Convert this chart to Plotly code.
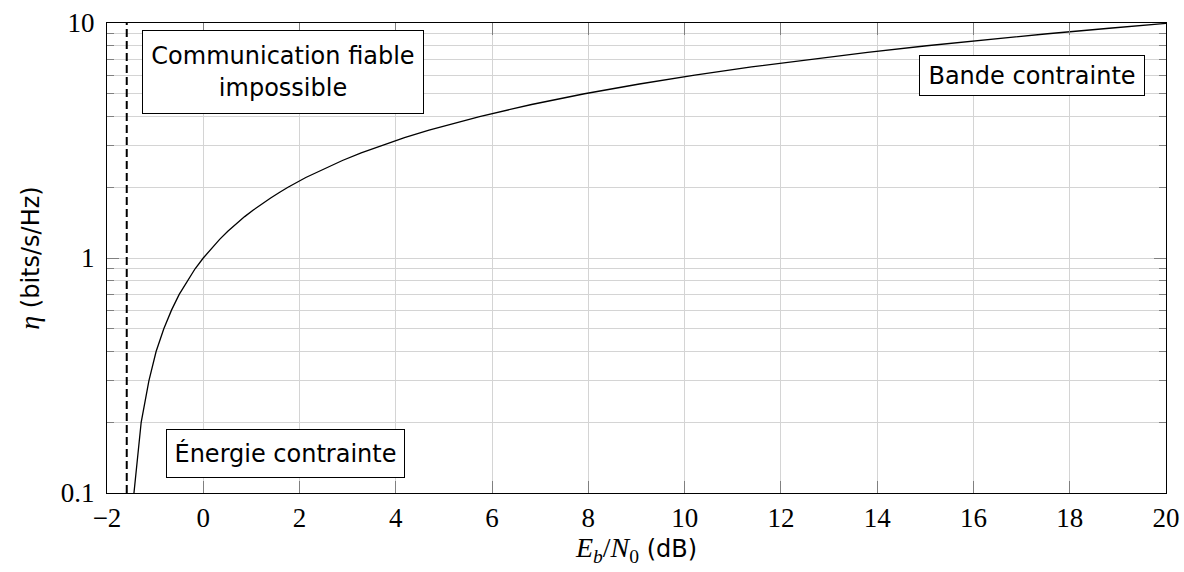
import math
import plotly.graph_objects as go

# Spectral efficiency (bits/s/Hz) and required Eb/N0 (dB)
eta = [0.1, 0.15, 0.2, 0.3, 0.4, 0.5, 0.6, 0.7, 0.8, 0.9, 1.0, 1.1, 1.2, 1.3, 1.4,
       1.5, 1.6, 1.7, 1.8, 1.9, 2.0, 2.2, 2.4, 2.6, 2.8, 3.0, 3.25, 3.5, 3.75, 4.0,
       4.5, 5.0, 5.5, 6.0, 6.5, 7.0, 7.5, 8.0, 8.5, 9.0, 9.5, 10.0]
ebn0_db = [-1.44, -1.36, -1.29, -1.13, -0.98, -0.82, -0.66, -0.50, -0.33, -0.17,
           0.00, 0.17, 0.34, 0.51, 0.69, 0.86, 1.04, 1.22, 1.40, 1.58, 1.76, 2.13,
           2.51, 2.89, 3.28, 3.68, 4.18, 4.69, 5.21, 5.74, 6.82, 7.92, 9.06, 10.21,
           11.39, 12.59, 13.80, 15.03, 16.28, 17.54, 18.82, 20.10]

shannon_limit_db = -1.59

x_range = [-2, 20]
x_ticks = list(range(-2, 21, 2))
x_ticktext = [("\u2212" + str(-v)) if v < 0 else str(v) for v in x_ticks]
y_major = [0.1, 1, 10]
y_major_text = ["0.1", "1", "10"]
y_minor = [0.2, 0.3, 0.4, 0.5, 0.6, 0.7, 0.8, 0.9, 2, 3, 4, 5, 6, 7, 8, 9]

labels = ["Communication fiable<br>impossible", "\u00c9nergie contrainte", "Bande contrainte"]
label_x = [1.65, 1.71, 17.22]
label_y = [6.17, 0.1476, 5.96]

SERIF = "Liberation Serif"
SANS = "DejaVu Sans"
GRID = "#d4d4d4"
TICK = "#808080"

fig = go.Figure()
fig.add_trace(go.Scatter(x=ebn0_db, y=eta, mode="lines",
                         line=dict(color="black", width=1.3), showlegend=False,
                         hoverinfo="skip"))
fig.add_trace(go.Scatter(x=[shannon_limit_db, shannon_limit_db],
                         y=[y_major[0], y_major[-1]], mode="lines",
                         line=dict(color="black", width=2, dash="8px,4px"),
                         showlegend=False, hoverinfo="skip"))

box_sizes = [(280, 82), (237, 47), (224, 39)]
for t, x, y, (w, h) in zip(labels, label_x, label_y, box_sizes):
    fig.add_annotation(x=x, y=math.log10(y), xref="x", yref="y", text=t,
                       showarrow=False, bgcolor="white", bordercolor="black",
                       borderwidth=1, borderpad=0, width=w, height=h,
                       font=dict(family=SANS, size=24, color="black"))

fig.update_layout(
    template="none",
    width=1184, height=572, autosize=False,
    margin=dict(l=107, r=18, t=23, b=79, pad=0),
    paper_bgcolor="white", plot_bgcolor="white",
    xaxis=dict(range=x_range, tickmode="array", tickvals=x_ticks, ticktext=x_ticktext,
               automargin=False,
               ticks="inside", ticklen=12, tickcolor=TICK, tickwidth=1,
               showline=True, linecolor="black", linewidth=1.2, mirror="ticks",
               showgrid=True, gridcolor=GRID, gridwidth=1, zeroline=False,
               tickfont=dict(family=SERIF, size=27, color="black"),
               ticklabelstandoff=0,
               title=dict(text='<span style="font-family:Liberation Serif;font-size:28px"><i>E</i><sub><i>b</i></sub>/<i>N</i><sub>0</sub></span> (dB)',
                          font=dict(family=SANS, size=24, color="black"), standoff=4)),
    yaxis=dict(type="log", range=[-1, 1], tickmode="array", tickvals=y_major,
               automargin=False,
               ticktext=y_major_text, ticks="inside", ticklen=12, tickcolor=TICK,
               tickwidth=1, showline=True, linecolor="black", linewidth=1.2,
               mirror="ticks", showgrid=True, gridcolor=GRID, gridwidth=1,
               zeroline=False, tickfont=dict(family=SERIF, size=27, color="black"),
               ticklabelstandoff=6,
               minor=dict(tickmode="array", tickvals=y_minor, ticks="inside",
                          ticklen=7, tickcolor=TICK, tickwidth=1, showgrid=True,
                          gridcolor=GRID, gridwidth=1),
               title=dict(text='<span style="font-family:Liberation Serif;font-size:28px"><i>\u03b7</i></span> (bits/s/Hz)',
                          font=dict(family=SANS, size=24, color="black"), standoff=14)),
)

fig.write_html("out.html", config={"displayModeBar": False},
               post_script="document.body.style.margin='0';document.body.style.padding='0';")
